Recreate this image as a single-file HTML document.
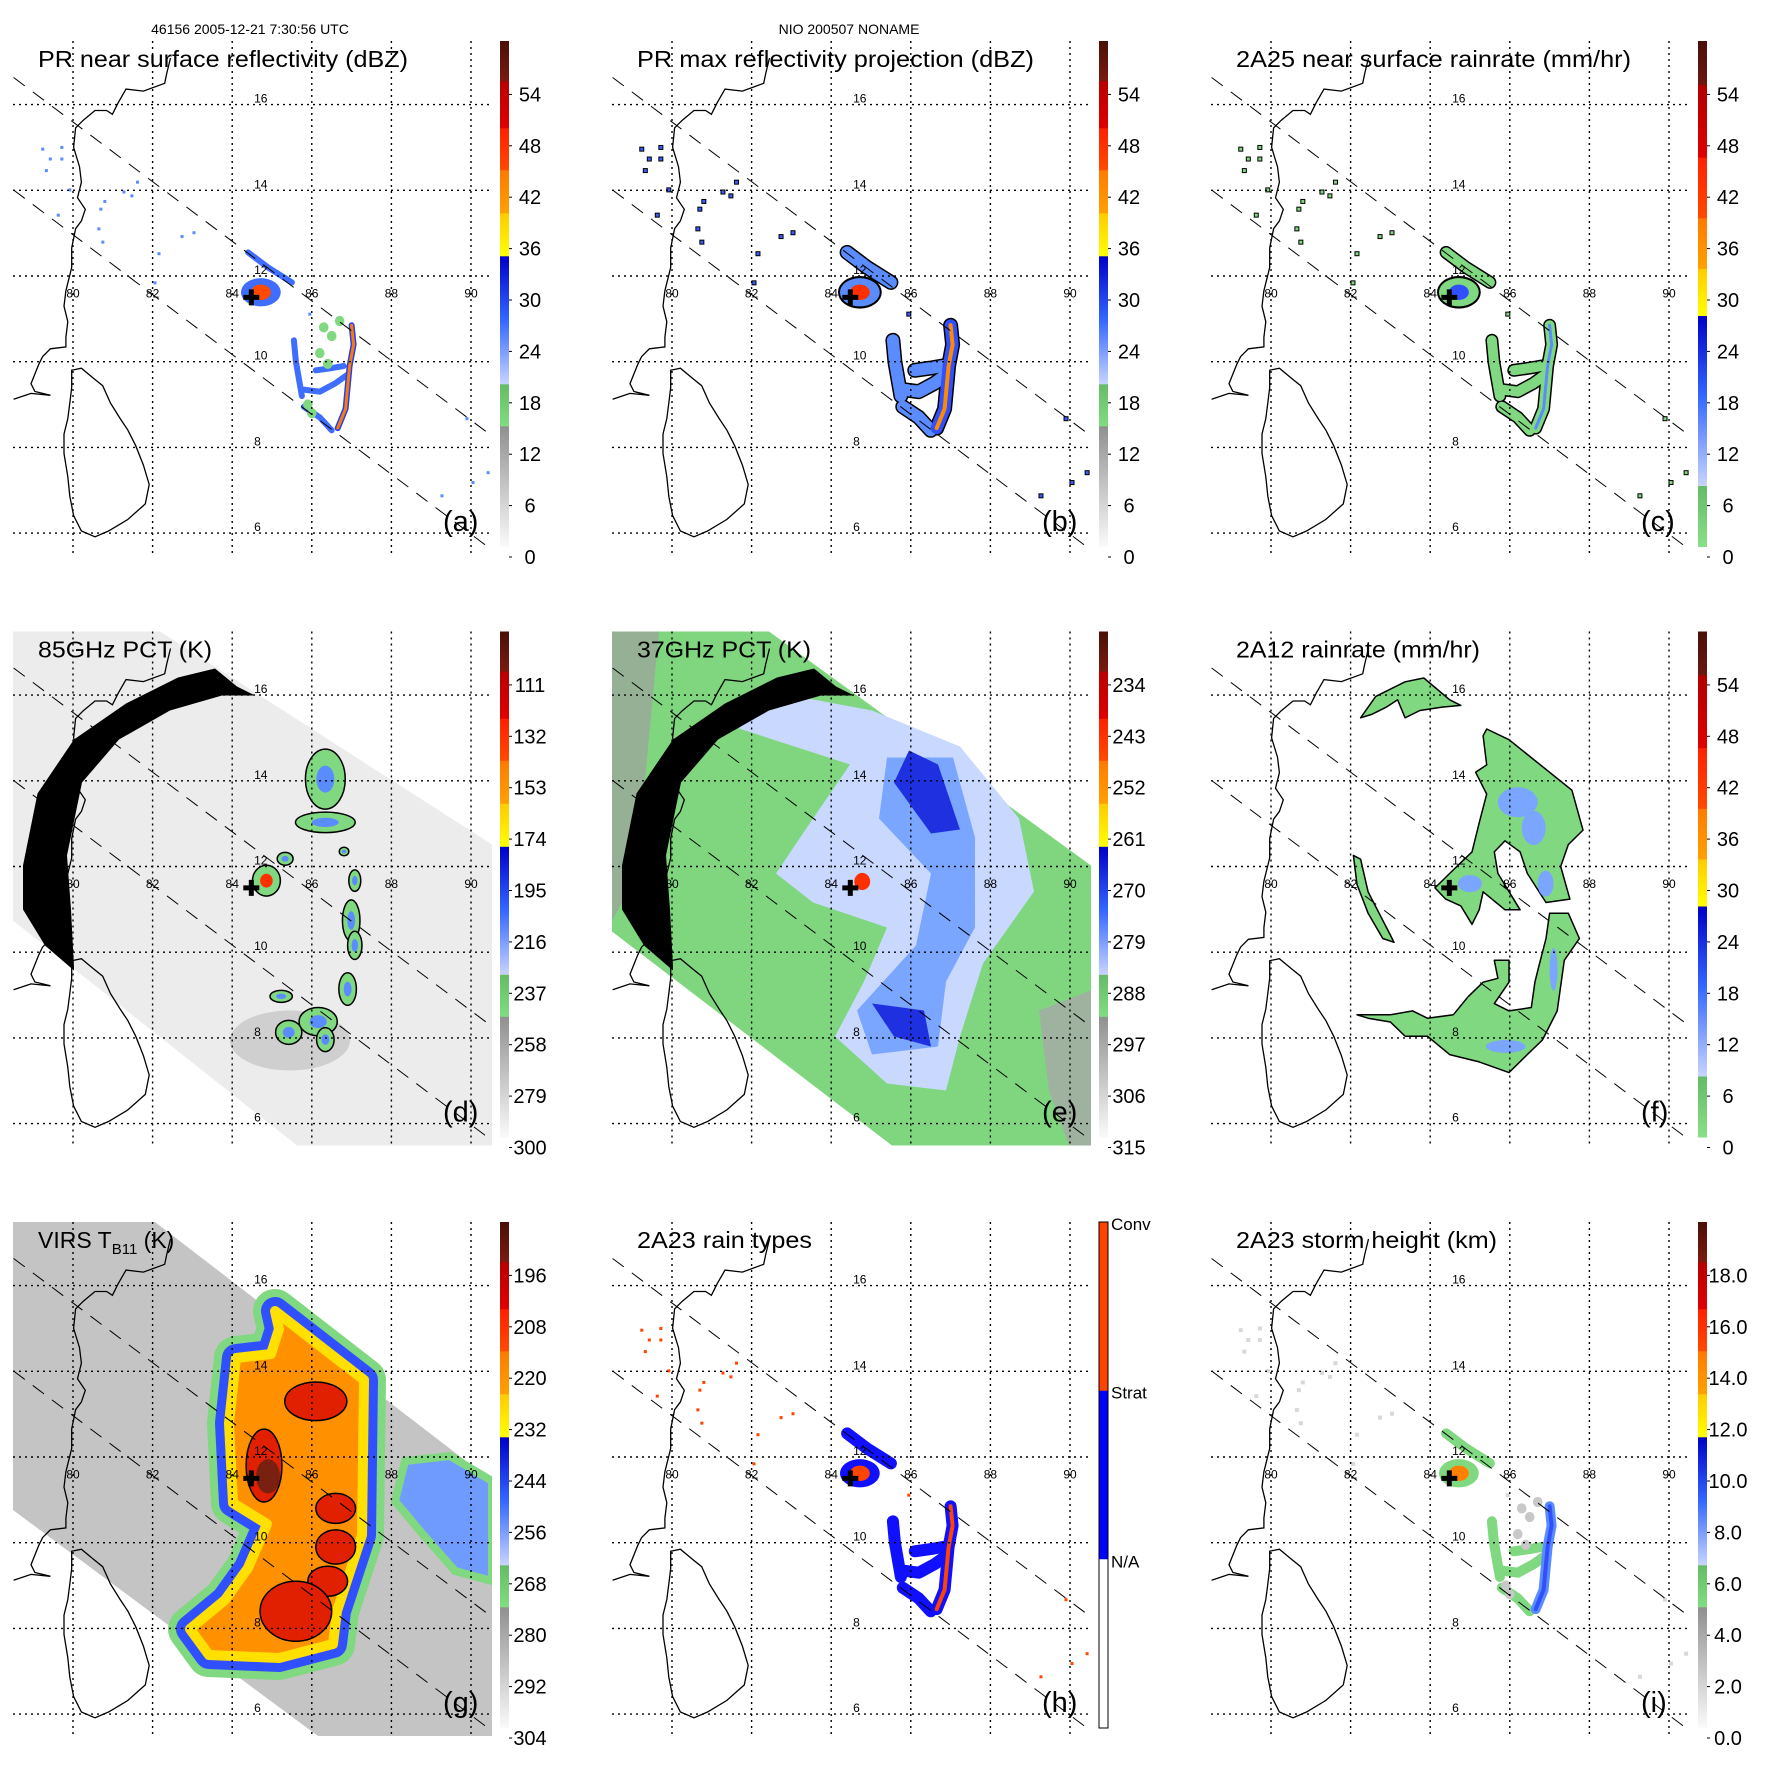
<!DOCTYPE html>
<html><head><meta charset="utf-8"><title>TRMM panels</title>
<style>
html,body{margin:0;padding:0;background:#fff;}
svg{display:block;font-family:"Liberation Sans",sans-serif;}
</style></head>
<body>
<svg id="fig" xmlns="http://www.w3.org/2000/svg" width="1771" height="1771" viewBox="0 0 1771 1771">
<defs>
<linearGradient id="cbA" x1="0" y1="0" x2="0" y2="1">
<stop offset="0" stop-color="#4a1008"/><stop offset="0.079" stop-color="#7a1a10"/>
<stop offset="0.08" stop-color="#b80000"/><stop offset="0.172" stop-color="#e00000"/>
<stop offset="0.173" stop-color="#ff2000"/><stop offset="0.255" stop-color="#ff4a00"/>
<stop offset="0.256" stop-color="#ff7a00"/><stop offset="0.34" stop-color="#ffa000"/>
<stop offset="0.341" stop-color="#ffcc00"/><stop offset="0.425" stop-color="#ffff00"/>
<stop offset="0.426" stop-color="#0000c8"/><stop offset="0.55" stop-color="#3366ff"/>
<stop offset="0.678" stop-color="#c8d4ff"/><stop offset="0.679" stop-color="#66bb66"/>
<stop offset="0.761" stop-color="#80dd80"/><stop offset="0.762" stop-color="#909090"/>
<stop offset="1" stop-color="#fafafa"/>
</linearGradient>
<linearGradient id="cbC" x1="0" y1="0" x2="0" y2="1">
<stop offset="0" stop-color="#4a1008"/><stop offset="0.086" stop-color="#6a1810"/>
<stop offset="0.087" stop-color="#b00000"/><stop offset="0.23" stop-color="#e00000"/>
<stop offset="0.231" stop-color="#ff2000"/><stop offset="0.35" stop-color="#ff4a00"/>
<stop offset="0.351" stop-color="#ff7a00"/><stop offset="0.45" stop-color="#ffa000"/>
<stop offset="0.451" stop-color="#ffcc00"/><stop offset="0.543" stop-color="#ffff00"/>
<stop offset="0.544" stop-color="#0000c8"/><stop offset="0.7" stop-color="#3366ff"/>
<stop offset="0.879" stop-color="#c8d4ff"/><stop offset="0.88" stop-color="#66bb66"/>
<stop offset="1" stop-color="#88e088"/>
</linearGradient>
<linearGradient id="cbH" x1="0" y1="0" x2="0" y2="1">
<stop offset="0" stop-color="#ff4400"/><stop offset="0.333" stop-color="#ff4400"/>
<stop offset="0.334" stop-color="#0000ff"/><stop offset="0.666" stop-color="#0000ff"/>
<stop offset="0.667" stop-color="#ffffff"/><stop offset="1" stop-color="#ffffff"/>
</linearGradient>
<clipPath id="plotclip"><rect x="13" y="41" width="479" height="514"/></clipPath>
</defs>
<rect x="0" y="0" width="1771" height="1771" fill="#fff"/>
<text x="250" y="34" font-size="14" text-anchor="middle">46156 2005-12-21 7:30:56 UTC</text>
<text x="849" y="34" font-size="14" text-anchor="middle">NIO 200507 NONAME</text>
</svg>
<script>
// ---- data arrays ----
const lonTicks=[80,82,84,86,88,90];
const latTicks=[16,14,12,10,8,6];
const labelsDBZ=['54','48','42','36','30','24','18','12','6','0'];
const labelsRain=['54','48','42','36','30','24','18','12','6','0'];
const labels85=['111','132','153','174','195','216','237','258','279','300'];
const labels37=['234','243','252','261','270','279','288','297','306','315'];
const labelsVIRS=['196','208','220','232','244','256','268','280','292','304'];
const labelsHeight=['18.0','16.0','14.0','12.0','10.0','8.0','6.0','4.0','2.0','0.0'];
const labelsType=['Conv','Strat','N/A'];
const stormCenter=[84.48,11.5];
// scattered small echoes (lon, lat)
const specks=[[79.24,14.96],[79.43,14.73],[79.33,14.46],[79.72,15.0],[79.72,14.73],[79.92,14.01],[80.8,13.74],[80.7,13.56],[81.28,13.96],[81.48,13.87],[80.65,13.1],[80.75,12.79],[82.16,12.52],[82.74,12.92],[83.04,13.01],[82.06,11.84],[79.63,13.42],[81.62,14.19],[85.95,11.11],[90.43,7.41],[89.27,6.87],[90.05,7.18],[89.9,8.67]];
// PR swath rain features (lon, lat)
const prCore=[84.72,11.62];
const prTopStrip=[[84.4,12.55],[84.9,12.2],[85.5,11.85]];
const prEyewall=[[87.0,10.85],[87.05,10.4],[86.95,9.9],[86.9,9.4],[86.85,8.9],[86.65,8.45]];
const prInner=[[85.8,9.35],[86.2,9.3],[86.6,9.5],[86.9,9.7]];
const prInner2=[[86.1,9.8],[86.5,9.85],[86.8,9.9]];
const prLeft=[[85.55,10.5],[85.6,10.0],[85.75,9.2]];
const prBottom=[[85.8,8.95],[86.2,8.7],[86.5,8.4]];
const prGreen=[[86.3,10.8],[86.5,10.6],[86.2,10.2],[86.4,9.95],[85.9,9.0],[86.0,8.8],[86.7,10.95]];
// 85 GHz cells: lon, lat, rlon, rlat
const cells85=[[86.34,14.04,0.5,0.7],[86.34,13.03,0.75,0.24],[84.86,11.67,0.35,0.36],[85.33,12.18,0.2,0.15],[87.08,11.67,0.15,0.25],[86.99,10.74,0.22,0.48],[87.08,10.16,0.18,0.33],[86.9,9.14,0.22,0.38],[86.16,8.38,0.48,0.33],[85.42,8.13,0.33,0.28],[85.23,8.97,0.28,0.14],[86.34,7.96,0.22,0.28],[86.81,12.35,0.12,0.1]];
// 2A12 rain regions (lon, lat)
const f12Upper=[[85.42,15.21],[85.98,14.96],[87.56,13.78],[87.84,12.85],[87.47,12.51],[87.28,12.0],[87.51,11.24],[86.91,11.16],[86.44,11.84],[86.26,12.34],[85.88,12.6],[85.61,12.34],[85.7,11.84],[86.26,10.99],[85.88,10.99],[85.33,11.41],[85.23,10.99],[85.05,10.65],[84.77,11.08],[84.39,11.24],[84.12,11.5],[84.58,11.92],[85.05,12.34],[85.23,13.02],[85.42,13.69],[85.14,14.2],[85.42,14.37],[85.33,15.05]];
const f12Lower=[[87.0,10.91],[87.47,10.91],[87.75,10.32],[87.37,9.81],[87.19,8.63],[86.82,7.95],[86.44,7.61],[85.98,7.19],[85.23,7.44],[84.49,7.61],[83.93,8.04],[83.37,8.04],[83.0,8.37],[82.44,8.46],[82.16,8.54],[83.0,8.54],[83.56,8.63],[83.93,8.46],[84.58,8.54],[84.95,8.96],[85.33,9.3],[85.7,9.39],[85.61,9.81],[85.98,9.81],[85.98,9.3],[85.61,8.8],[85.98,8.63],[86.54,8.71],[86.63,9.3],[86.72,9.64],[86.91,10.32]];
const f12Band=[[82.25,15.47],[82.63,15.97],[83.37,16.31],[83.84,16.4],[84.49,15.89],[84.77,15.76],[84.3,15.72],[83.74,15.64],[83.37,15.47],[83.18,15.89],[82.9,15.72],[82.53,15.55]];
const f12Arm=[[82.07,12.26],[82.25,12.17],[82.44,11.41],[83.0,10.4],[83.09,10.23],[82.81,10.32],[82.44,10.91],[82.16,11.58]];
const f12Blue=[[85.0,11.6,0.3,0.2],[86.2,13.5,0.5,0.35],[86.6,12.9,0.3,0.4],[86.9,11.6,0.2,0.3],[85.9,7.8,0.5,0.15],[87.1,9.6,0.1,0.5]];
// VIRS cold-cloud cells (lon, lat, rlon, rlat)
const virsRed=[[84.8,11.8,0.45,0.85],[86.1,13.3,0.78,0.45],[86.6,10.8,0.5,0.35],[86.6,9.9,0.5,0.4],[86.4,9.1,0.5,0.35],[85.6,8.4,0.9,0.7]];

// ---- geometry ----
const NS='http://www.w3.org/2000/svg';
const PWX=599, PHY=590.5;
function X(lon){return 73+(lon-80)*39.8;}
function Y(lat){return 104.6+(16-lat)*42.85;}
function P(pts){return pts.map(p=>X(p[0]).toFixed(1)+','+Y(p[1]).toFixed(1)).join(' ');}
function mk(tag,attrs,parent){const e=document.createElementNS(NS,tag);for(const k in attrs)e.setAttribute(k,attrs[k]);parent.appendChild(e);return e;}
const svg=document.getElementById('fig');

const coast=[[170.5,58],[166.7,73.6],[164.7,83.3],[143.4,91.1],[126,89.1],[118.2,102.7],[112.4,114.3],[106.6,110.5],[95,110.5],[83.3,120.2],[75.6,127.9],[73.6,147.3],[79.5,166.7],[81.4,182.2],[77.5,197.7],[85.3,209.3],[81.4,220.9],[75.6,228.7],[71.7,248],[71.7,267.4],[65.9,290.7],[64,306.2],[67.8,321.7],[65.9,337.2],[65.9,346.9],[50.4,348.8],[42.6,356.6],[38.8,364.3],[31,383.7],[34.9,391.5],[50.4,395.3],[31,393.4],[13.6,399.2]];
const lanka=[[71.7,370.2],[81.4,368.2],[93,377.9],[102.7,385.7],[110.5,403.1],[120.2,418.6],[127.9,430.2],[135.7,445.7],[143.4,465.1],[149.2,484.5],[145.3,503.9],[127.9,519.4],[108.5,531],[95,536.8],[81.4,531],[73.6,515.5],[69.8,496.1],[67.8,476.7],[64,453.5],[64,434.1],[67.8,418.6],[69.8,403.1],[71.7,387.6],[71.7,376]];
const arcBand='M74,380 L45,355 L23,319 L23,275 L37.5,203 L74,149 L126,113 L178,87 L215,78 L237,96 L255,105 L222,105 L170,120 L119,149 L82,192 L67,265 L71,319 L74,377 Z';

const panels=[
 {id:'a',col:0,row:0,title:'PR near surface reflectivity (dBZ)',tl:370,cb:'cbA',labels:labelsDBZ},
 {id:'b',col:1,row:0,title:'PR max reflectivity projection (dBZ)',tl:397,cb:'cbA',labels:labelsDBZ},
 {id:'c',col:2,row:0,title:'2A25 near surface rainrate (mm/hr)',tl:395,cb:'cbC',labels:labelsRain},
 {id:'d',col:0,row:1,title:'85GHz PCT (K)',tl:174,cb:'cbA',labels:labels85},
 {id:'e',col:1,row:1,title:'37GHz PCT (K)',tl:174,cb:'cbA',labels:labels37},
 {id:'f',col:2,row:1,title:'2A12 rainrate (mm/hr)',tl:244,cb:'cbC',labels:labelsRain},
 {id:'g',col:0,row:2,title:'VIRS',tl:0,cb:'cbA',labels:labelsVIRS},
 {id:'h',col:1,row:2,title:'2A23 rain types',tl:175,cb:'cbH',labels:labelsType},
 {id:'i',col:2,row:2,title:'2A23 storm height (km)',tl:261,cb:'cbA',labels:labelsHeight}
];

function line(pts,color,w,parent,name){
  const e=mk('polyline',{points:P(pts),fill:'none',stroke:color,'stroke-width':w,'stroke-linecap':'round','stroke-linejoin':'round'},parent);
  
  
  return e;
}
function blob(c,rx,ry,fill,stroke,parent,name){
  const e=mk('ellipse',{cx:X(c[0]),cy:Y(c[1]),rx:rx*39.8,ry:ry*42.85,fill:fill,stroke:stroke||'none','stroke-width':1.5},parent);
  
  
  return e;
}
function poly(pts,fill,stroke,parent,name){
  const e=mk('polygon',{points:P(pts),fill:fill,stroke:stroke||'none','stroke-width':1.5,'stroke-linejoin':'round'},parent);
  
  
  return e;
}
function pxpoly(str,fill,parent,name,extra){
  const e=mk('polygon',Object.assign({points:str,fill:fill},extra||{}),parent);
  
  
  return e;
}
function drawSpecks(g,color,size,outline){
  specks.forEach(s=>{
    const r=mk('rect',{x:X(s[0])-size/2,y:Y(s[1])-size/2,width:size,height:size,fill:color,stroke:outline||'none','stroke-width':1},g);
    
    
  });
}
function drawPR(g,o){
  const bands=[prTopStrip,prLeft,prInner,prInner2,prBottom];
  if(o.outline){ bands.concat([prEyewall]).forEach(b=>line(b,'#000',o.wBand+3,g,'rain-band-outline')); blob(prCore,0.55,0.38,'#000','none',g,'core-outline'); }
  bands.forEach(b=>line(b,o.band,o.wBand,g,'rain-band'));
  line(prEyewall,o.wall,o.wBand,g,'eyewall-band');
  line(prEyewall,o.wallIn,o.wWall,g,'eyewall-core');
  blob(prCore,0.5,0.33,o.band,'none',g,'core-halo');
  blob(prCore,0.25,0.18,o.core,'none',g,'convective-core');
  if(o.green) prGreen.forEach(p=>blob(p,0.12,0.12,o.green,'none',g,'light-rain'));
}

panels.forEach(pn=>{
  const g=mk('g',{transform:`translate(${pn.col*PWX},${(pn.row*PHY).toFixed(1)})`},svg);
  
  
  const plot=mk('g',{'clip-path':'url(#plotclip)'},g);
  
  

  // ---- fields ----
  if(pn.id==='a'){ drawSpecks(plot,'#5a8cff',3); drawPR(plot,{band:'#3f6dff',wall:'#2040ff',wallIn:'#ff7a00',core:'#ff4a00',wBand:6,wWall:3,green:'#80d880'}); }
  if(pn.id==='b'){ drawSpecks(plot,'#3a5cff',4,'#000'); drawPR(plot,{band:'#5a8cff',wall:'#3050ff',wallIn:'#ff8a00',core:'#ff3000',wBand:12,wWall:4,outline:true}); }
  if(pn.id==='c'){ drawSpecks(plot,'#80d880',4,'#000'); drawPR(plot,{band:'#80d880',wall:'#80d880',wallIn:'#5a8cff',core:'#3050ff',wBand:10,wWall:3,outline:true}); }
  if(pn.id==='h'){ drawSpecks(plot,'#ff4400',3); drawPR(plot,{band:'#1010ff',wall:'#1010ff',wallIn:'#ff4400',core:'#ff4400',wBand:12,wWall:4}); }
  if(pn.id==='i'){ drawSpecks(plot,'#d8d8d8',4); drawPR(plot,{band:'#80d880',wall:'#5a8cff',wallIn:'#3050ff',core:'#ff8000',wBand:10,wWall:4,green:'#c8c8c8'}); }
  if(pn.id==='d'){
    pxpoly('13,41 160,41 492,254 492,555 297,555 13,330','#ececec',plot,'pct85-swath');
    const h=mk('ellipse',{cx:290,cy:450,rx:60,ry:30,fill:'#cfcfcf'},plot);
    
    
    cells85.forEach((c,i)=>{ blob(c,c[2],c[3],'#80d880','#000',plot,'pct85-cell'); blob(c,c[2]*0.45,c[3]*0.45,i===2?'#ff3000':'#5a8cff','none',plot,'pct85-cell-core'); });
    const a=mk('path',{d:arcBand,fill:'#000'},plot);
    
    
  }
  if(pn.id==='e'){
    pxpoly('13,41 170,41 492,275 492,555 293,555 13,341','#7fd67f',plot,'pct37-swath');
    pxpoly('13,41 60,41 45,200 30,300 13,330','#a0a0a0',plot,'warm-patch',{opacity:0.7});
    pxpoly('440,420 492,400 492,555 470,555 450,500','#a8a8a8',plot,'warm-patch-se',{opacity:0.8});
    pxpoly('177,102 273,120 361,156 420,228 435,301 384,373 361,446 347,500 288,493 236,446 265,391 288,337 214,312 177,283 214,228 251,174 140,138','#c8d8ff',plot,'pct37-light');
    pxpoly('288,167 354,167 376,247 376,337 347,391 339,456 273,464 258,420 317,355 332,283 280,228','#7aa6ff',plot,'pct37-mid');
    pxpoly('310,160 339,174 361,239 332,243 295,192','#1e30e0',plot,'pct37-deep');
    pxpoly('273,413 325,420 332,456 295,446','#1e30e0',plot,'pct37-deep-south');
    blob([84.78,11.65],0.2,0.2,'#ff3000','none',plot,'pct37-core');
    const a=mk('path',{d:arcBand,fill:'#000'},plot);
    
    
  }
  if(pn.id==='f'){
    [f12Upper,f12Lower,f12Band,f12Arm].forEach(p=>poly(p,'#80d880','#000',plot,'rain-region'));
    f12Blue.forEach(b=>blob(b,b[2],b[3],'#7aa6ff','none',plot,'heavy-rain'));
  }
  if(pn.id==='g'){
    pxpoly('13,41 155,41 492,300 492,555 318,555 13,329','#c4c4c4',plot,'virs-swath');
    const core='275,130 364,199 362,354 337,430 333,463 279,477 209,474 190,448 225,419 248,387 267,343 233,322 229,242 236,177 271,173 279,148';
    pxpoly(core,'#80d880',plot,'cloud-edge',{stroke:'#80d880','stroke-width':44,'stroke-linejoin':'round'});
    pxpoly(core,'#3050ff',plot,'cloud-cold',{stroke:'#3050ff','stroke-width':28,'stroke-linejoin':'round'});
    pxpoly(core,'#ff9000',plot,'cloud-top',{stroke:'#ffe000','stroke-width':10,'stroke-linejoin':'round'});
    pxpoly('405,280 450,275 492,300 492,400 455,390 420,350 395,320','#6f9bff',plot,'cloud-east',{stroke:'#80d880','stroke-width':8});
    virsRed.forEach(c=>blob(c,c[2],c[3],'#e02000','#000',plot,'cold-cloud-cell'));
    blob([84.9,11.55],0.3,0.4,'#7a2010','none',plot,'coldest-top');
  }

  // coast
  const cl=mk('polyline',{points:coast.map(p=>p.join(',')).join(' '),fill:'none',stroke:'#000','stroke-width':1.3},plot);
  
  
  const sl=mk('polygon',{points:lanka.map(p=>p.join(',')).join(' '),fill:'none',stroke:'#000','stroke-width':1.3},plot);
  
  
  // swath edges
  [[13.6,77.5,492,436],[13.6,190,492,550]].forEach(s=>{
    const l=mk('line',{x1:s[0],y1:s[1],x2:s[2],y2:s[3],stroke:'#000','stroke-width':1,'stroke-dasharray':'14,10'},plot);
    
    
  });
  // grid
  lonTicks.forEach(v=>{
    const l=mk('line',{x1:X(v),y1:41,x2:X(v),y2:555,stroke:'#000','stroke-width':1.4,'stroke-dasharray':'2,4'},g);
    
    
    const t=mk('text',{x:X(v),y:Y(11.5),'font-size':12,'text-anchor':'middle'},g);
    
    
    t.textContent=v;
  });
  latTicks.forEach(v=>{
    const l=mk('line',{x1:13,y1:Y(v),x2:492,y2:Y(v),stroke:'#000','stroke-width':1.4,'stroke-dasharray':'2,4'},g);
    
    
    const t=mk('text',{x:X(84.55),y:Y(v)-2,'font-size':12},g);
    
    
    t.textContent=v;
  });
  // storm center
  const cx=X(stormCenter[0]), cy=Y(stormCenter[1]);
  const m=mk('path',{d:`M${cx-8},${cy-2.5}h16v5h-16z M${cx-2.5},${cy-8}h5v16h-5z`,fill:'#000'},g);
  
  
  // title
  const t=mk('text',{x:38,y:67,'font-size':23},g);
  
  
  if(pn.id==='g'){
    t.innerHTML='VIRS T<tspan font-size="15" dy="6">B11</tspan><tspan dy="-6"> (K)</tspan>';
  } else {
    t.textContent=pn.title;
    t.setAttribute('textLength',pn.tl);
    t.setAttribute('lengthAdjust','spacingAndGlyphs');
  }
  const lt=mk('text',{x:443,y:531,'font-size':29},g);
  
  
  lt.textContent='('+pn.id+')';
  // colorbar
  const cb=mk('rect',{x:500,y:41,width:9,height:506,fill:`url(#${pn.cb})`,stroke:pn.cb==='cbH'?'#000':'none','stroke-width':1},g);
  
  
  if(pn.cb==='cbH'){
    pn.labels.forEach((lab,i)=>{
      const tx=mk('text',{x:512,y:41+i*168.7+8,'font-size':17},g);
      
      
      tx.textContent=lab;
    });
  } else {
    pn.labels.forEach((lab,i)=>{
      const yy=557-(pn.labels.length-1-i)*51.4;
      const tk=mk('line',{x1:509,y1:yy,x2:512,y2:yy,stroke:'#000','stroke-width':1},g);
      
      
      const tx=mk('text',{x:530,y:yy+7,'font-size':20,'text-anchor':'middle'},g);
      
      
      tx.textContent=lab;
    });
  }
});
</script>
</body></html>
